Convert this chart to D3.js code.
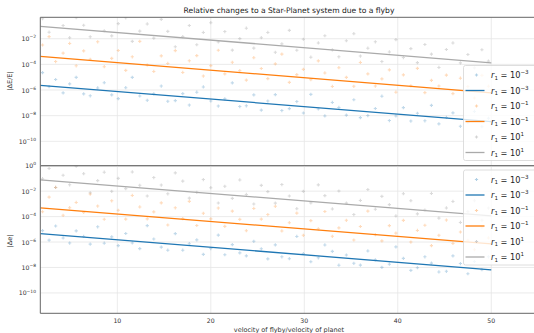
<!DOCTYPE html>
<html>
<head>
<meta charset="utf-8">
<script src="https://cdn.jsdelivr.net/npm/d3@7"></script>
<style>
  body { margin: 0; background: #fff; }
  svg { font-family: "DejaVu Sans", sans-serif; }
</style>
</head>
<body>
<svg id="chart" width="534" height="333"></svg>
<script>
// flyby velocity / planet velocity, shared by every series
const vRatio = [2.0, 2.7, 3.4, 4.2, 4.9, 5.6, 6.4, 7.1, 7.9, 8.6, 9.4, 10.1, 10.9, 11.6, 12.4, 13.2,
  13.9, 14.7, 15.4, 16.2, 17.0, 17.7, 18.5, 19.2, 20.0, 20.8, 21.5, 22.3, 23.1, 23.8, 24.6, 25.4,
  26.1, 26.9, 27.6, 28.4, 29.2, 29.9, 30.7, 31.5, 32.2, 33.0, 33.7, 34.5, 35.3, 36.0, 36.8, 37.6,
  38.3, 39.1, 39.8, 40.6, 41.4, 42.1, 42.9, 43.6, 44.4, 45.2, 45.9, 46.7, 47.5, 48.2, 49.0, 49.7];

// log10 |dE/E|
const dE_r1em3 = [-4.64, -5.74, -5.18, -6.22, -5.52, -5.01, -6.30, -6.45, -5.84, -5.43, -6.38, -6.67, -5.82, -5.01, -6.46, -6.80,
  -6.30, -5.69, -6.88, -6.83, -6.28, -7.17, -6.17, -5.76, -6.85, -7.25, -6.69, -5.44, -7.29, -7.23, -6.38, -7.57,
  -6.86, -6.36, -7.60, -7.45, -6.90, -7.79, -6.34, -7.48, -8.02, -6.97, -7.36, -7.96, -6.76, -8.15, -7.99, -7.44,
  -6.48, -8.38, -8.02, -7.37, -8.42, -7.81, -8.40, -7.20, -8.64, -8.14, -7.78, -8.83, -8.53, -7.67, -8.86, -8.20];
const dE_r1em1 = [-2.49, -1.84, -3.78, -3.12, -2.37, -4.11, -2.95, -3.60, -2.24, -4.18, -3.53, -2.92, -4.47, -3.41, -2.21, -4.05,
  -4.55, -3.34, -3.93, -2.93, -4.63, -3.72, -3.32, -4.91, -4.10, -2.90, -4.74, -3.84, -4.49, -5.23, -3.48, -4.32,
  -5.11, -3.96, -3.20, -5.40, -4.80, -4.39, -5.19, -3.73, -4.67, -5.72, -4.26, -5.01, -5.71, -3.85, -4.74, -5.69,
  -5.13, -4.43, -6.17, -4.82, -5.67, -4.31, -6.20, -5.25, -5.69, -4.84, -6.28, -5.08, -5.73, -6.62, -4.86, -5.70];
const dE_r1e1 = [-0.44, -1.49, -0.03, -0.97, -1.92, -0.36, -0.95, -1.85, 0.01, -1.38, -1.78, -0.82, -0.37, -2.21, -1.41, -0.85,
  -1.95, -0.49, -1.43, -2.63, -1.83, -0.97, -2.47, -1.51, -0.75, -2.25, -1.44, -2.89, -1.99, -1.18, -2.73, -1.92,
  -1.51, -3.06, -2.40, -1.35, -2.90, -2.04, -3.44, -2.33, -1.77, -2.87, -3.41, -2.16, -1.61, -3.35, -2.74, -2.24,
  -3.78, -3.03, -2.07, -3.47, -2.77, -3.86, -2.45, -3.20, -4.24, -2.84, -2.33, -3.88, -3.23, -4.27, -2.86, -3.75];

// log10 |de|
const de_r1em3 = [-5.10, -5.85, -4.74, -5.68, -6.08, -5.12, -5.56, -6.16, -4.80, -6.09, -5.59, -6.28, -5.33, -6.07, -6.52, -4.71,
  -5.76, -6.40, -6.64, -5.34, -6.64, -6.13, -5.83, -6.97, -6.51, -5.46, -7.00, -6.20, -6.85, -7.09, -5.94, -6.53,
  -7.32, -6.22, -7.16, -7.31, -5.56, -6.90, -7.55, -7.24, -6.23, -6.73, -7.82, -7.02, -7.67, -7.81, -6.70, -7.40,
  -7.99, -7.74, -6.38, -7.28, -8.23, -8.02, -7.16, -7.66, -8.35, -8.30, -7.09, -7.69, -8.49, -7.53, -8.17, -7.16];
const de_r1em1 = [-3.62, -2.47, -1.71, -3.90, -3.30, -2.89, -3.68, -2.23, -3.17, -4.21, -2.76, -3.50, -4.20, -2.34, -3.24, -4.18,
  -3.63, -2.92, -4.66, -3.31, -4.16, -2.80, -4.70, -3.74, -4.18, -3.33, -4.77, -3.57, -4.22, -5.11, -3.36, -4.20,
  -3.84, -3.19, -5.13, -4.48, -3.73, -5.47, -4.32, -4.96, -3.60, -5.55, -4.89, -4.29, -5.84, -4.78, -3.57, -5.42,
  -5.91, -4.71, -5.30, -4.30, -6.00, -5.09, -4.68, -6.28, -5.47, -4.27, -6.11, -5.21, -5.86, -6.60, -4.84, -5.68];
const de_r1e1 = [-1.02, -0.22, -1.71, -0.75, -1.50, -0.04, -0.63, -2.13, -1.17, -0.51, -2.01, -1.00, -1.80, -0.49, -1.54, -2.38,
  -0.93, -1.52, -2.21, -0.56, -1.21, -2.55, -2.10, -1.09, -1.73, -2.93, -1.62, -2.57, -1.12, -2.26, -3.01, -1.55,
  -2.04, -2.94, -1.48, -2.38, -3.38, -2.02, -2.92, -1.51, -2.35, -3.40, -1.99, -2.94, -3.84, -2.73, -1.87, -3.42,
  -2.41, -3.06, -3.95, -2.20, -2.75, -3.79, -3.48, -2.18, -4.12, -3.32, -2.81, -4.46, -3.61, -2.75, -4.29, -3.33];

// fitted trend lines (log10 values at the ends of fitX)
const fitX = [1.76, 50];
const fitE_r1em3 = [-5.63, -8.47], fitE_r1em1 = [-3.38, -6.22], fitE_r1e1 = [-1.03, -3.88];
const fitEcc_r1em3 = [-5.34, -8.18], fitEcc_r1em1 = [-3.31, -6.15], fitEcc_r1e1 = [-1.11, -3.95];

const labels = ["-3", "-1", "1"];
const colors = ["#1f77b4", "#ff7f0e", "#7f7f7f"];
const lineColors = ["#1f77b4", "#ff7f0e", "#aaaaaa"];
const xTicks = [10, 20, 30, 40, 50];
const yTicks = [0, -2, -4, -6, -8, -10];

const svg = d3.select("#chart");
const left = 40.3, right = 538;
const x = d3.scaleLinear().domain([1.76, 55]).range([left, right]);

const panels = [
  { top: 17.3, bottom: 165.7, dom: [Math.pow(10, -11.9), Math.pow(10, -0.33)], label: "|ΔE/E|", labelY: 81,
    pts: [dE_r1em3, dE_r1em1, dE_r1e1], fits: [fitE_r1em3, fitE_r1em1, fitE_r1e1], legTop: 65.5, legH: 95 },
  { top: 165.7, bottom: 313.3, dom: [Math.pow(10, -11.6), 1], label: "|Δe|", labelY: 241,
    pts: [de_r1em3, de_r1em1, de_r1e1], fits: [fitEcc_r1em3, fitEcc_r1em1, fitEcc_r1e1], legTop: 170, legH: 95 }
];

function supLabel(sel, base, exp, size) {
  sel.append("tspan").text(base);
  sel.append("tspan").attr("dy", -size * 0.45).attr("font-size", size * 0.72).text(exp.replace("-", "\u2212"));
}

const plus = "M-1.6,0H1.6M0,-1.6V1.6";

panels.forEach(function (p, pi) {
  const y = d3.scaleLog().domain(p.dom).range([p.bottom, p.top]);

  svg.append("clipPath").attr("id", "clip" + pi)
    .append("rect").attr("x", left).attr("y", p.top).attr("width", right - left).attr("height", p.bottom - p.top);

  // grid
  const grid = svg.append("g");
  grid.selectAll(".gx").data(xTicks).enter().append("line")
    .attr("x1", d => x(d)).attr("x2", d => x(d)).attr("y1", p.top).attr("y2", p.bottom)
    .attr("stroke", "#e6e6e6").attr("stroke-width", 0.8);
  grid.selectAll(".gy").data(yTicks.filter(t => Math.pow(10, t) <= p.dom[1] && t > -11)).enter().append("line")
    .attr("x1", left).attr("x2", right).attr("y1", d => y(Math.pow(10, d))).attr("y2", d => y(Math.pow(10, d)))
    .attr("stroke", "#e6e6e6").attr("stroke-width", 0.8);

  const plot = svg.append("g").attr("clip-path", "url(#clip" + pi + ")");

  // scatter
  p.pts.forEach(function (vals, si) {
    plot.append("g").selectAll("path").data(vals).enter().append("path")
      .attr("d", plus)
      .attr("transform", (d, i) => "translate(" + x(vRatio[i]) + "," + y(Math.pow(10, d)) + ")")
      .attr("stroke", colors[si]).attr("stroke-width", 1.1).attr("opacity", 0.28).attr("fill", "none");
  });

  // fits
  const line = d3.line().x(d => x(d[0])).y(d => y(Math.pow(10, d[1])));
  p.fits.forEach(function (f, si) {
    plot.append("path").datum(fitX.map((xx, k) => [xx, f[k]]))
      .attr("d", line).attr("fill", "none").attr("stroke", lineColors[si]).attr("stroke-width", 1.3);
  });

  // spines
  svg.append("line").attr("x1", left).attr("x2", left).attr("y1", p.top).attr("y2", p.bottom)
    .attr("stroke", "#666").attr("stroke-width", 1);
  svg.append("line").attr("x1", left).attr("x2", right).attr("y1", p.top).attr("y2", p.top)
    .attr("stroke", "#666").attr("stroke-width", 1);
  svg.append("line").attr("x1", left).attr("x2", right).attr("y1", p.bottom).attr("y2", p.bottom)
    .attr("stroke", "#666").attr("stroke-width", 1);

  // y tick labels
  const yt = yTicks.filter(t => Math.pow(10, t) <= p.dom[1] * 1.0001 && t >= -10);
  yt.forEach(function (t) {
    const tx = svg.append("text").attr("x", 36).attr("y", y(Math.pow(10, t)) + 2.5)
      .attr("text-anchor", "end").attr("font-size", 6.2).attr("fill", "#333");
    supLabel(tx, "10", String(t), 6.2);
  });

  // y label
  svg.append("text").attr("transform", "translate(12," + p.labelY + ") rotate(-90)")
    .attr("text-anchor", "middle").attr("font-size", 6.5).attr("fill", "#333").text(p.label);

  // legend
  const lg = svg.append("g").attr("transform", "translate(463.5," + p.legTop + ")");
  lg.append("rect").attr("width", 80).attr("height", p.legH).attr("rx", 2)
    .attr("fill", "#fff").attr("fill-opacity", 0.8).attr("stroke", "#d6d6d6").attr("stroke-width", 0.8);
  for (let k = 0; k < 6; k++) {
    const si = Math.floor(k / 2), rowY = 9.5 + k * 15.5;
    if (k % 2 === 0) {
      lg.append("path").attr("d", plus).attr("transform", "translate(13," + rowY + ")")
        .attr("stroke", colors[si]).attr("stroke-width", 1.1).attr("opacity", 0.35).attr("fill", "none");
    } else {
      lg.append("line").attr("x1", 2).attr("x2", 21).attr("y1", rowY).attr("y2", rowY)
        .attr("stroke", lineColors[si]).attr("stroke-width", 1.3);
    }
    const tx = lg.append("text").attr("x", 27.5).attr("y", rowY + 3).attr("font-size", 8.2).attr("fill", "#222");
    tx.append("tspan").attr("font-style", "italic").text("r");
    tx.append("tspan").attr("font-size", 5.6).attr("dy", 1.8).text("1");
    tx.append("tspan").attr("dy", -1.8).text(" = 10");
    tx.append("tspan").attr("font-size", 5.6).attr("dy", -3.6).text(labels[si].replace("-", "\u2212"));
  }
});

// x tick labels (bottom panel only)
svg.selectAll(".xt").data(xTicks).enter().append("text")
  .attr("x", d => x(d)).attr("y", 322.5).attr("text-anchor", "middle")
  .attr("font-size", 6.2).attr("fill", "#333").text(d => d);

svg.append("text").attr("x", 289).attr("y", 331.5).attr("text-anchor", "middle")
  .attr("font-size", 6.5).attr("fill", "#333").text("velocity of flyby/velocity of planet");

svg.append("text").attr("x", 289).attr("y", 12.5).attr("text-anchor", "middle")
  .attr("font-size", 7.6).attr("fill", "#222").text("Relative changes to a Star-Planet system due to a flyby");
</script>
</body>
</html>
